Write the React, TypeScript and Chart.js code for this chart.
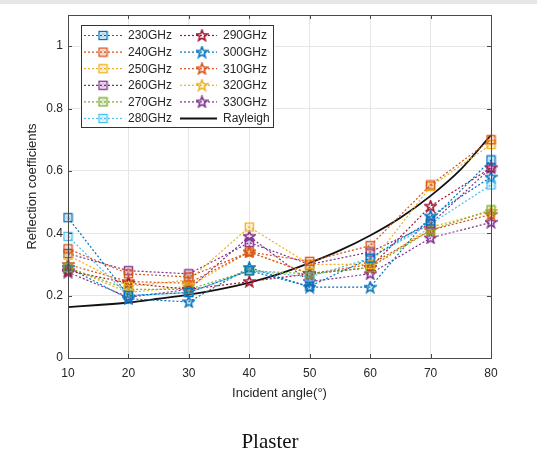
import React, { useEffect, useRef } from "react";
import { Chart, registerables } from "chart.js";

Chart.register(...registerables);

const angles = [10, 20, 30, 40, 50, 60, 70, 80];
const s230 = [0.45, 0.2, 0.21, 0.28, 0.23, 0.32, 0.44, 0.635];
const s240 = [0.35, 0.27, 0.26, 0.34, 0.31, 0.36, 0.555, 0.7];
const s250 = [0.33, 0.23, 0.25, 0.42, 0.3, 0.3, 0.55, 0.685];
const s260 = [0.335, 0.28, 0.27, 0.37, 0.3, 0.34, 0.43, 0.61];
const s270 = [0.29, 0.22, 0.22, 0.28, 0.27, 0.29, 0.41, 0.475];
const s280 = [0.39, 0.2, 0.21, 0.28, 0.26, 0.32, 0.43, 0.555];
const s290 = [0.28, 0.24, 0.22, 0.245, 0.27, 0.29, 0.487, 0.61];
const s300 = [0.29, 0.19, 0.18, 0.29, 0.227, 0.227, 0.455, 0.58];
const s310 = [0.3, 0.245, 0.24, 0.34, 0.27, 0.3, 0.41, 0.46];
const s320 = [0.29, 0.21, 0.23, 0.34, 0.27, 0.29, 0.42, 0.47];
const s330 = [0.275, 0.195, 0.22, 0.39, 0.245, 0.27, 0.385, 0.435];

const rayleighAngles = [10, 15, 20, 25, 30, 35, 40, 45, 50, 55, 60, 65, 70, 75, 80];
const rayleighValues = [0.163, 0.17, 0.178, 0.19, 0.203, 0.22, 0.242, 0.27, 0.305, 0.345, 0.393, 0.45, 0.52, 0.605, 0.715];

const seriesNames = ["230GHz", "240GHz", "250GHz", "260GHz", "270GHz", "280GHz", "290GHz", "300GHz", "310GHz", "320GHz", "330GHz"];
const seriesValues = [s230, s240, s250, s260, s270, s280, s290, s300, s310, s320, s330];
const seriesColors = ["#0072BD", "#D95319", "#EDB120", "#7E2F8E", "#77AC30", "#4DBEEE", "#A2142F", "#0072BD", "#D95319", "#EDB120", "#7E2F8E"];
const seriesMarkers = ["square", "square", "square", "square", "square", "square", "star", "star", "star", "star", "star"];

const yTickValues = [0, 0.2, 0.4, 0.6, 0.8, 1];

const FONT = "'Liberation Sans', Arial, Helvetica, sans-serif";
const TEXT = "#262626";

function makeStar(color: string): HTMLCanvasElement {
  const c = document.createElement("canvas");
  c.width = 13;
  c.height = 13;
  const ctx = c.getContext("2d")!;
  const cx = 6.5, cy = 6.8, ro = 5.8, ri = 2.4;
  ctx.beginPath();
  for (let i = 0; i < 10; i++) {
    const r = i % 2 === 0 ? ro : ri;
    const a = -Math.PI / 2 + (i * Math.PI) / 5;
    const x = cx + r * Math.cos(a);
    const y = cy + r * Math.sin(a);
    if (i === 0) ctx.moveTo(x, y);
    else ctx.lineTo(x, y);
  }
  ctx.closePath();
  ctx.strokeStyle = color;
  ctx.lineWidth = 1.5;
  ctx.stroke();
  return c;
}

function makeSquare(color: string): HTMLCanvasElement {
  const c = document.createElement("canvas");
  c.width = 11;
  c.height = 11;
  const ctx = c.getContext("2d")!;
  ctx.strokeStyle = color;
  ctx.lineWidth = 1.4;
  ctx.strokeRect(1.5, 1.5, 8, 8);
  ctx.lineWidth = 0.8;
  ctx.globalAlpha = 0.6;
  ctx.strokeRect(4, 4, 3, 3);
  return c;
}

export default function App() {
  const ref = useRef<HTMLCanvasElement | null>(null);

  useEffect(() => {
    const canvas = ref.current;
    if (!canvas) return;

    const markerImgs = seriesColors.map((c, i) =>
      seriesMarkers[i] === "star" ? makeStar(c) : makeSquare(c)
    );

    const datasets: any[] = seriesNames.map((name, i) => ({
      label: name,
      data: angles.map((a, j) => ({ x: a, y: seriesValues[i][j] })),
      borderColor: seriesColors[i],
      borderWidth: 1.2,
      borderDash: [2, 2],
      pointStyle: markerImgs[i],
      pointRadius: 5,
      fill: false,
      tension: 0,
      clip: false,
    }));
    datasets.push({
      label: "Rayleigh",
      data: rayleighAngles.map((a, j) => ({ x: a, y: rayleighValues[j] })),
      borderColor: "#111111",
      borderWidth: 1.8,
      pointRadius: 0,
      fill: false,
      cubicInterpolationMode: "monotone",
    });

    const boxPlugin = {
      id: "boxPlugin",
      afterDatasetsDraw(chart: any) {
        const { ctx, chartArea } = chart;
        const { left, right, top, bottom } = chartArea;
        ctx.save();
        ctx.strokeStyle = "#4a4a4a";
        ctx.lineWidth = 1;
        ctx.strokeRect(left + 0.5, top + 0.5, right - left, bottom - top);
        const xs = chart.scales.x;
        const ys = chart.scales.y;
        ctx.beginPath();
        angles.forEach((a) => {
          const px = Math.round(xs.getPixelForValue(a)) + 0.5;
          ctx.moveTo(px, bottom);
          ctx.lineTo(px, bottom - 4);
          ctx.moveTo(px, top);
          ctx.lineTo(px, top + 4);
        });
        yTickValues.forEach((v) => {
          const py = Math.round(ys.getPixelForValue(v)) + 0.5;
          ctx.moveTo(left, py);
          ctx.lineTo(left + 4, py);
          ctx.moveTo(right, py);
          ctx.lineTo(right - 4, py);
        });
        ctx.stroke();
        ctx.restore();
      },
      afterDraw(chart: any) {
        const { ctx } = chart;
        ctx.save();
        const bx = 81, by = 25, bw = 192, bh = 102;
        ctx.fillStyle = "#ffffff";
        ctx.fillRect(bx, by, bw, bh);
        ctx.strokeStyle = "#333333";
        ctx.lineWidth = 1;
        ctx.strokeRect(bx + 0.5, by + 0.5, bw, bh);
        ctx.font = `12px ${FONT}`;
        ctx.textBaseline = "middle";
        ctx.textAlign = "left";
        const labels = [...seriesNames, "Rayleigh"];
        labels.forEach((name, i) => {
          const col = i < 6 ? 0 : 1;
          const row = i % 6;
          const cy = 35.5 + row * 16.6;
          const lx0 = col === 0 ? 84 : 180;
          const lx1 = col === 0 ? 123 : 217;
          const mx = col === 0 ? 103 : 202;
          const tx = col === 0 ? 128 : 223;
          ctx.beginPath();
          if (i < seriesNames.length) {
            ctx.strokeStyle = seriesColors[i];
            ctx.lineWidth = 1.2;
            ctx.setLineDash([2, 2]);
          } else {
            ctx.strokeStyle = "#111111";
            ctx.lineWidth = 1.8;
            ctx.setLineDash([]);
          }
          ctx.moveTo(lx0, cy);
          ctx.lineTo(lx1, cy);
          ctx.stroke();
          ctx.setLineDash([]);
          if (i < seriesNames.length) {
            const img = markerImgs[i];
            ctx.drawImage(img, mx - img.width / 2, cy - img.height / 2);
          }
          ctx.fillStyle = TEXT;
          ctx.fillText(name, tx, cy + 0.5);
        });
        ctx.restore();
      },
    };

    const chart = new Chart(canvas, {
      type: "line",
      data: { datasets },
      options: {
        animation: false,
        responsive: true,
        maintainAspectRatio: false,
        layout: { padding: { left: 0, top: 15, right: 46, bottom: 60 } },
        plugins: {
          legend: { display: false },
          tooltip: { enabled: false },
        },
        scales: {
          x: {
            type: "linear",
            min: 10,
            max: 80,
            ticks: {
              stepSize: 10,
              padding: 8,
              color: TEXT,
              font: { family: FONT, size: 12 },
              maxRotation: 0,
            },
            grid: { color: "#e6e6e6", drawTicks: false },
            border: { display: false },
            title: {
              display: true,
              text: "Incident angle(°)",
              color: TEXT,
              font: { family: FONT, size: 13 },
              padding: { top: 0, bottom: 0 },
            },
            afterFit(scale: any) {
              scale.height = 43;
            },
          },
          y: {
            type: "linear",
            min: 0,
            max: 1.1,
            ticks: {
              stepSize: 0.2,
              padding: 5,
              color: TEXT,
              font: { family: FONT, size: 12 },
              callback: (v: any) => {
                const n = Number(v);
                if (Math.abs(n - 1.1) < 1e-6) return "";
                return String(Math.round(n * 10) / 10);
              },
            },
            grid: {
              color: (c: any) => (Math.abs(c.tick.value - 1.1) < 1e-6 ? "rgba(0,0,0,0)" : "#e6e6e6"),
              drawTicks: false,
            },
            border: { display: false },
            title: {
              display: true,
              text: "Reflection coefficients",
              color: TEXT,
              font: { family: FONT, size: 13 },
              padding: { top: 25, bottom: 0 },
            },
            afterFit(scale: any) {
              scale.width = 68;
            },
          },
        },
      },
      plugins: [boxPlugin],
    } as any);

    return () => chart.destroy();
  }, []);

  return (
    <div style={{ position: "fixed", left: 0, top: 0, width: 537, height: 461, background: "#ffffff", overflow: "hidden" }}>
      <div style={{ position: "absolute", left: 0, top: 0, width: 537, height: 4, background: "#e6e6e6" }} />
      <div style={{ position: "absolute", left: 0, top: 0, width: 537, height: 461 }}>
        <canvas ref={ref} />
      </div>
      <div
        style={{
          position: "absolute",
          left: 0,
          top: 429,
          width: 540,
          textAlign: "center",
          fontFamily: "'Liberation Serif', 'Times New Roman', serif",
          fontSize: 21,
          lineHeight: "24px",
          color: "#111111",
        }}
      >
        Plaster
      </div>
    </div>
  );
}
